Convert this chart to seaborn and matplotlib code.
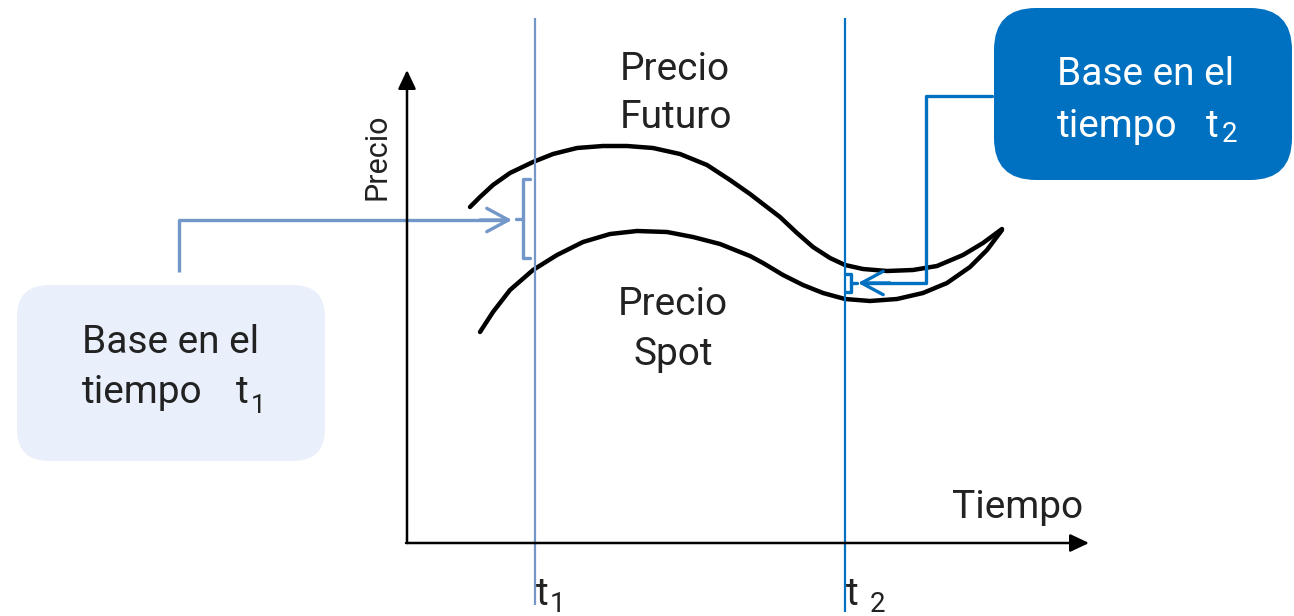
import numpy as np
import pandas as pd
import matplotlib.pyplot as plt
import seaborn as sns
from matplotlib.patches import FancyBboxPatch

# points (picture pixel coords)
future_x = [470, 480, 493, 510, 533, 553, 577, 603, 627, 653, 680, 707, 730, 750, 763, 780,
            797, 813, 830, 845, 863, 887, 913, 937, 963, 983, 1002]
future_y = [207, 197, 185, 173, 162, 154, 148, 146, 146, 148, 154, 165, 180, 194, 204, 217,
            233, 247, 258, 265, 269, 271, 270, 266, 255, 243, 229]
spot_x = [480, 493, 510, 533, 557, 583, 610, 637, 667, 693, 720, 750, 763, 783, 803, 823,
          845, 870, 897, 923, 947, 970, 987, 1002]
spot_y = [332, 312, 290, 270, 255, 242, 234, 231, 232, 237, 244, 256, 263, 275, 285, 293,
          299, 301, 299, 293, 283, 267, 250, 230]

# time marks
t_x = [535, 845]
t_names = ["1", "2"]
t_colors = ["#7397c9", "#0070c0"]

box_title = "Base en el"
box_word = "tiempo"

sns.set_theme(style="white")
plt.rcParams["font.family"] = ["Roboto", "DejaVu Sans"]

fig = plt.figure(figsize=(12.94, 6.16), dpi=100)
ax = fig.add_axes([0, 0, 1, 1])
ax.set_xlim(0, 1294)
ax.set_ylim(616, 0)
ax.axis("off")

dark = "#222222"
fs = 28

# price curves
curves = pd.concat([
    pd.DataFrame({"x": future_x, "y": future_y, "serie": "Futuro"}),
    pd.DataFrame({"x": spot_x, "y": spot_y, "serie": "Spot"}),
])
sns.lineplot(data=curves, x="x", y="y", units="serie", estimator=None, sort=False,
             color="black", lw=3.2, ax=ax, legend=False,
             solid_joinstyle="round", solid_capstyle="round")

# axes with arrows
ax.annotate("", xy=(407, 70), xytext=(407, 543),
            arrowprops=dict(arrowstyle="-|>,head_length=0.95,head_width=0.45",
                            color="black", lw=1.8, shrinkA=0, shrinkB=0))
ax.annotate("", xy=(1089, 543), xytext=(406, 543),
            arrowprops=dict(arrowstyle="-|>,head_length=0.95,head_width=0.45",
                            color="black", lw=1.8, shrinkA=0, shrinkB=0))
ax.text(1083, 518, "Tiempo", ha="right", va="baseline", fontsize=fs, color=dark)
ax.text(392, 157, "Precio", ha="right", va="center", rotation=90, fontsize=22, color=dark)

# vertical time lines
ax.vlines(t_x, [18, 18], [605, 612], colors=t_colors, lw=1.6)
for x, name, off in zip(t_x, t_names, [0, 10]):
    ax.text(x + 1, 605, "t", ha="left", va="baseline", fontsize=fs, color=dark)
    ax.text(x + 15 + off, 612, name, ha="left", va="baseline", fontsize=20, color=dark)

# curve labels
ax.text(675, 80, "Precio", ha="center", va="baseline", fontsize=fs, color=dark)
ax.text(676, 128, "Futuro", ha="center", va="baseline", fontsize=fs, color=dark)
ax.text(673, 315, "Precio", ha="center", va="baseline", fontsize=fs, color=dark)
ax.text(673, 365, "Spot", ha="center", va="baseline", fontsize=fs, color=dark)

# left box: basis at t1
ax.add_patch(FancyBboxPatch((17, 285), 308, 176, boxstyle="round,pad=0,rounding_size=32",
                            fc="#e9f0fb", ec="none"))
ax.text(82, 353, box_title, ha="left", va="baseline", fontsize=fs, color=dark)
ax.text(82, 403, box_word, ha="left", va="baseline", fontsize=fs, color=dark)
ax.text(236, 403, "t", ha="left", va="baseline", fontsize=fs, color=dark)
ax.text(251, 413, t_names[0], ha="left", va="baseline", fontsize=19, color=dark)

c1 = t_colors[0]
ax.plot([179, 179, 505], [272, 220, 220], color=c1, lw=2.4, solid_capstyle="butt")
ax.annotate("", xy=(512, 220), xytext=(480, 220),
            arrowprops=dict(arrowstyle="->,head_length=1.3,head_width=0.7",
                            color=c1, lw=2.4, shrinkA=0, shrinkB=0))
ax.plot([530, 523, 523, 530], [179, 179, 258, 258], color=c1, lw=2.4)
ax.plot([516, 523], [219, 219], color=c1, lw=2.4)

# right box: basis at t2
ax.add_patch(FancyBboxPatch((994, 8), 298, 172, boxstyle="round,pad=0,rounding_size=42",
                            fc="#0070c0", ec="none"))
ax.text(1057, 85, box_title, ha="left", va="baseline", fontsize=fs, color="white")
ax.text(1057, 137, box_word, ha="left", va="baseline", fontsize=fs, color="white")
ax.text(1206, 137, "t", ha="left", va="baseline", fontsize=fs, color="white")
ax.text(1222, 142, t_names[1], ha="left", va="baseline", fontsize=20, color="white")

c2 = t_colors[1]
ax.plot([992, 926, 926, 866], [96, 96, 283, 283], color=c2, lw=2.4)
ax.annotate("", xy=(858, 283), xytext=(890, 283),
            arrowprops=dict(arrowstyle="->,head_length=1.3,head_width=0.7",
                            color=c2, lw=2.4, shrinkA=0, shrinkB=0))
ax.plot([845, 851, 851, 845], [274, 274, 292, 292], color=c2, lw=2.4)
ax.plot([851, 857], [283, 283], color=c2, lw=2.4)

fig.savefig("out.png", dpi=100)
